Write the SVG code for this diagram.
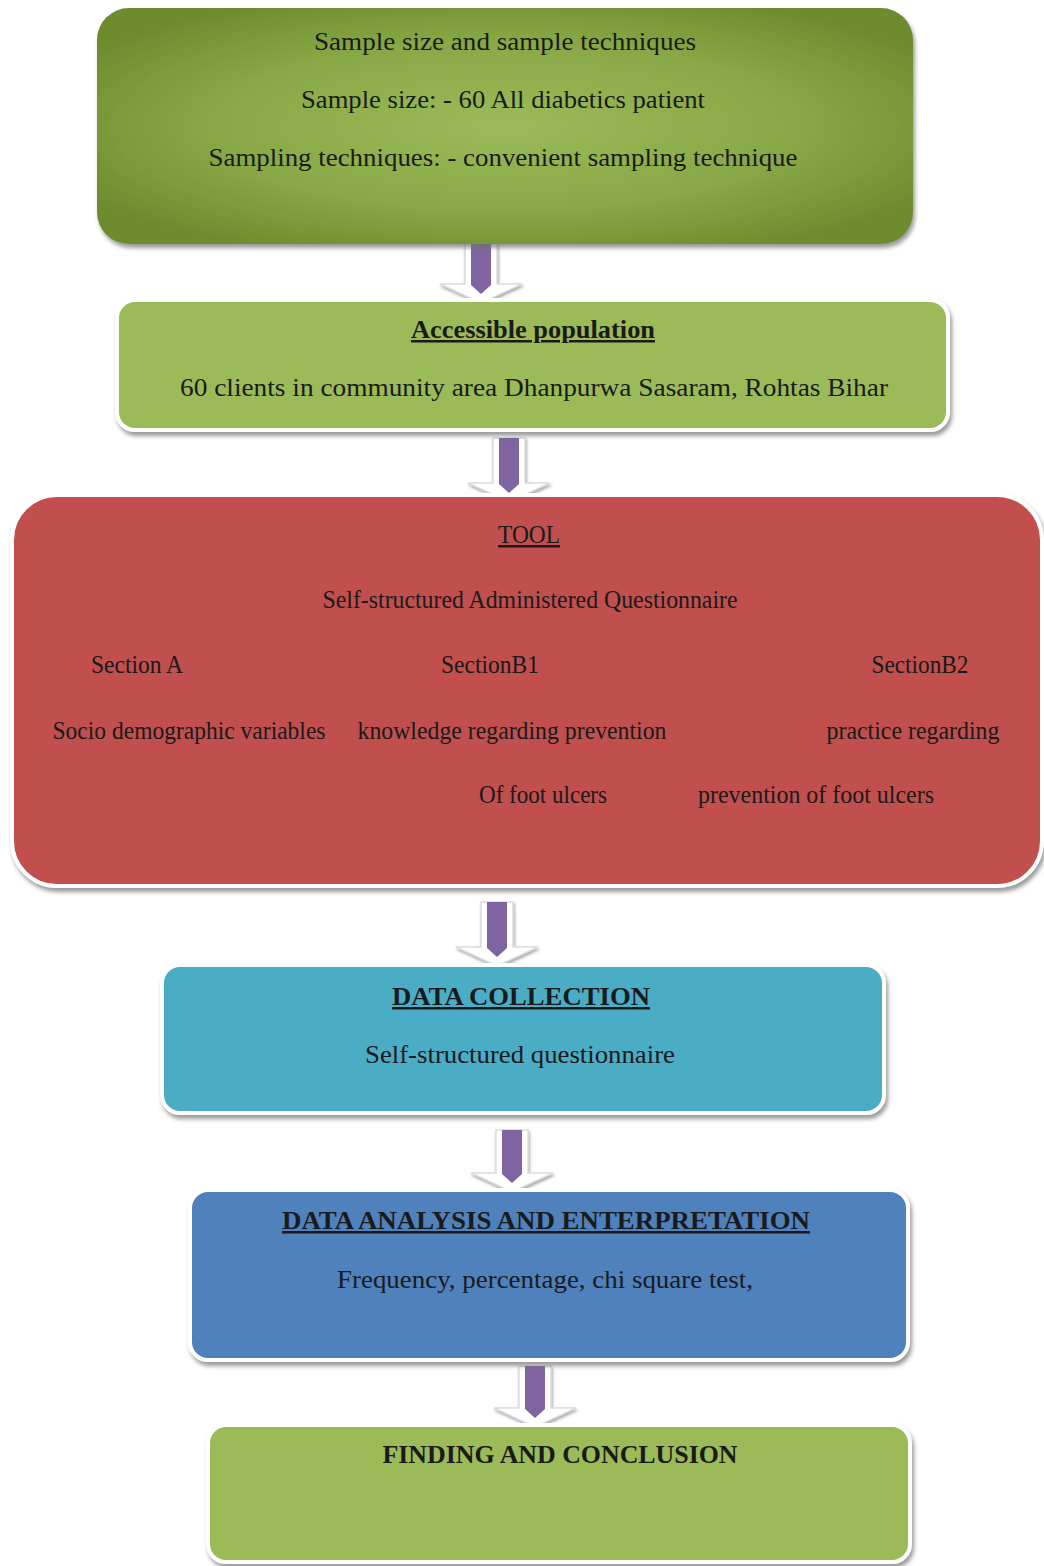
<svg xmlns="http://www.w3.org/2000/svg" width="1044" height="1566" viewBox="0 0 1044 1566">
<defs>
<style>
.t{font-family:"Liberation Serif","Times New Roman",serif;font-size:25px;fill:#1a1a1a;text-anchor:middle}
.b{font-weight:bold}
.u{text-decoration:underline}
.box{stroke:#ffffff;stroke-width:4;filter:url(#sh)}
.aw{fill:#ffffff;stroke:#dcdce2;stroke-width:1.5;filter:url(#sh2)}
.ap{fill:#8064a2}
</style>
<radialGradient id="g1" cx="0.5" cy="0.5" r="0.6">
<stop offset="0" stop-color="#9bbb59"/>
<stop offset="0.6" stop-color="#88a846"/>
<stop offset="1" stop-color="#6c8c2e"/>
</radialGradient>
<filter id="sh" x="-5%" y="-5%" width="112%" height="115%">
<feDropShadow dx="2" dy="4" stdDeviation="2" flood-color="#707070" flood-opacity="0.7"/>
</filter>
<filter id="sh2" x="-20%" y="-20%" width="140%" height="140%">
<feDropShadow dx="1" dy="2" stdDeviation="1.5" flood-color="#808080" flood-opacity="0.7"/>
</filter>
</defs>
<rect width="1044" height="1566" fill="#ffffff"/>

<g id="connectors">
<g id="a1">
<polygon class="aw" points="465,238 497,238 497,284 522,284 481,303 440,284 465,284"/>
<polygon class="ap" points="471,238 491,238 491,285 481,294 471,285"/>
</g>
<g id="a2">
<polygon class="aw" points="493,438 525,438 525,483 550,483 509,502 468,483 493,483"/>
<polygon class="ap" points="499,438 519,438 519,484 509,493 499,484"/>
</g>
<g id="a3">
<polygon class="aw" points="481,902 513,902 513,947 538,947 497,966 456,947 481,947"/>
<polygon class="ap" points="487,902 507,902 507,948 497,957 487,948"/>
</g>
<g id="a4">
<polygon class="aw" points="496,1130 528,1130 528,1173 553,1173 512,1192 471,1173 496,1173"/>
<polygon class="ap" points="502,1130 522,1130 522,1174 512,1183 502,1174"/>
</g>
<g id="a5">
<polygon class="aw" points="519,1366 551,1366 551,1408 576,1408 535,1427 494,1408 519,1408"/>
<polygon class="ap" points="525,1366 545,1366 545,1409 535,1418 525,1409"/>
</g>
</g>

<g id="n1">
<rect x="97" y="8" width="816" height="236" rx="32" fill="url(#g1)" filter="url(#sh)"/>
<text class="t" x="505" y="50" textLength="382" lengthAdjust="spacingAndGlyphs">Sample size and sample techniques</text>
<text class="t" x="503" y="108" textLength="404" lengthAdjust="spacingAndGlyphs">Sample size: - 60 All diabetics patient</text>
<text class="t" x="503" y="166" textLength="589" lengthAdjust="spacingAndGlyphs">Sampling techniques: - convenient sampling technique</text>
</g>

<g id="n2">
<rect class="box" x="117" y="300" width="831" height="130" rx="18" fill="#9bbb59"/>
<text class="t b u" x="533" y="338" textLength="244" lengthAdjust="spacingAndGlyphs">Accessible population</text>
<text class="t" x="534" y="396" textLength="708" lengthAdjust="spacingAndGlyphs">60 clients in community area Dhanpurwa Sasaram, Rohtas Bihar</text>
</g>

<g id="n3">
<rect class="box" x="12" y="495" width="1030" height="391" rx="45" fill="#c0504d"/>
<text class="t u" x="529" y="543" textLength="62" lengthAdjust="spacingAndGlyphs">TOOL</text>
<text class="t" x="530" y="608" textLength="415" lengthAdjust="spacingAndGlyphs">Self-structured Administered Questionnaire</text>
<text class="t" x="137" y="673" textLength="92" lengthAdjust="spacingAndGlyphs">Section A</text>
<text class="t" x="490" y="673" textLength="98" lengthAdjust="spacingAndGlyphs">SectionB1</text>
<text class="t" x="920" y="673" textLength="97" lengthAdjust="spacingAndGlyphs">SectionB2</text>
<text class="t" x="189" y="739" textLength="273" lengthAdjust="spacingAndGlyphs">Socio demographic  variables</text>
<text class="t" x="512" y="739" textLength="309" lengthAdjust="spacingAndGlyphs">knowledge regarding prevention</text>
<text class="t" x="913" y="739" textLength="173" lengthAdjust="spacingAndGlyphs">practice  regarding</text>
<text class="t" x="543" y="803" textLength="128" lengthAdjust="spacingAndGlyphs">Of foot ulcers</text>
<text class="t" x="816" y="803" textLength="236" lengthAdjust="spacingAndGlyphs">prevention  of foot ulcers</text>
</g>

<g id="n4">
<rect class="box" x="162" y="965" width="722" height="148" rx="18" fill="#4bacc6"/>
<text class="t b u" x="521" y="1005" textLength="258" lengthAdjust="spacingAndGlyphs">DATA COLLECTION</text>
<text class="t" x="520" y="1063" textLength="310" lengthAdjust="spacingAndGlyphs">Self-structured questionnaire</text>
</g>

<g id="n5">
<rect class="box" x="190" y="1190" width="718" height="170" rx="18" fill="#4f81bd"/>
<text class="t b u" x="546" y="1229" textLength="528" lengthAdjust="spacingAndGlyphs">DATA ANALYSIS  AND ENTERPRETATION</text>
<text class="t" x="545" y="1288" textLength="416" lengthAdjust="spacingAndGlyphs">Frequency, percentage, chi square test,</text>
</g>

<g id="n6">
<rect class="box" x="208" y="1425" width="702" height="137" rx="18" fill="#9bbb59"/>
<text class="t b" x="560" y="1463" textLength="355" lengthAdjust="spacingAndGlyphs">FINDING AND  CONCLUSION</text>
</g>
</svg>
